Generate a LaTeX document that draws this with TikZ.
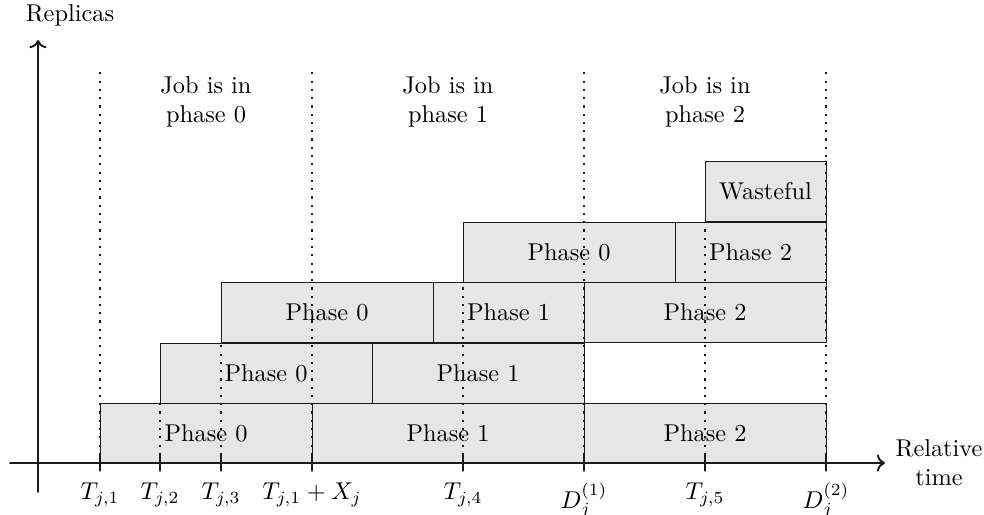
\documentclass[tikz,border=0pt]{standalone}
\usepackage{amsmath,amssymb}
\usepackage{xcolor}
\usepackage{tikz}
\usetikzlibrary{arrows.meta,positioning,calc}
\definecolor{boxgray}{HTML}{E6E6E6}
\definecolor{ink}{HTML}{1A1A1A}
\tikzset{
    every picture/.style={line cap=round,line join=round},
    phasebox/.style={draw=ink,fill=boxgray,line width=0.4pt},
    phaselabel/.style={font=\normalsize,inner sep=1pt},
    axisline/.style={->,line width=0.8pt,draw=ink},
    marker/.style={line cap=butt,dash pattern=on 0.9pt off 2.5pt,
      line width=0.9pt,draw=ink},
    tickmark/.style={line width=0.5pt,draw=ink},
    ticklabel/.style={anchor=north,inner sep=3pt},
    headlabel/.style={align=center,font=\normalsize}
}

\begin{document}
\begin{tikzpicture}[x=0.411pt,y=-0.411pt]
  \useasboundingbox (0,0) rectangle (984,515);
  % boxes: left/top/right/label/name
  \foreach \xa/\ya/\xb/\lab/\nm in {
      100/403/312/Phase 0/ba, 312/403/584/Phase 1/bb, 584/403/826/Phase 2/bc,
      160/343/372/Phase 0/bd, 372/343/584/Phase 1/be,
      221/282/433/Phase 0/bf, 433/282/584/Phase 1/bg, 584/282/826/Phase 2/bh,
      463/222/675/Phase 0/bi, 675/222/826/Phase 2/bj,
      705/161/826/Wasteful/bk}
    \draw[phasebox] (\xa,\ya) rectangle ($(\xb,\ya)+(0,60)$)
      node[midway,phaselabel] (\nm) {\lab};
  % dotted markers (x/upper end) and ticks
  \foreach \xx/\yy/\lab/\nm in {100/70/{$T_{j,1}$}/ta, 160/403/{$T_{j,2}$}/tb,
      221/343/{$T_{j,3}$}/tc, 312/70/{$T_{j,1}+X_j$}/td, 463/282/{$T_{j,4}$}/te,
      584/70/{$D_j^{(1)}$}/tf, 705/222/{$T_{j,5}$}/tg, 826/70/{$D_j^{(2)}$}/th} {
    \coordinate (\nm top) at (\xx,\yy);
    \coordinate (\nm bot) at (\xx,455);
    \coordinate (\nm end) at (\xx,471);
    \draw[marker] (\nm bot) -- (\nm top);
    \node[ticklabel] (\nm) at (\xx,475) {\lab};
    \draw[tickmark] (\nm bot) -- (\nm end);
  }
  % axes
  \coordinate (xs) at (10,463);
  \coordinate (xe) at (885,463);
  \coordinate (ys) at (38,492);
  \coordinate (ye) at (38,40);
  \draw[axisline] (xs) -- (xe);
  \draw[axisline] (ys) -- (ye);
  \node[anchor=west,align=center] (xlab) at (887,463) {Relative\\time};
  \node (ylab) at (70,15) {Replicas};
  % phase headers
  \node[headlabel] (ha) at (206,102) {Job is in\\phase 0};
  \node[headlabel] (hb) at (448,102) {Job is in\\phase 1};
  \node[headlabel] (hc) at (705,102) {Job is in\\phase 2};
\end{tikzpicture}
\end{document}
